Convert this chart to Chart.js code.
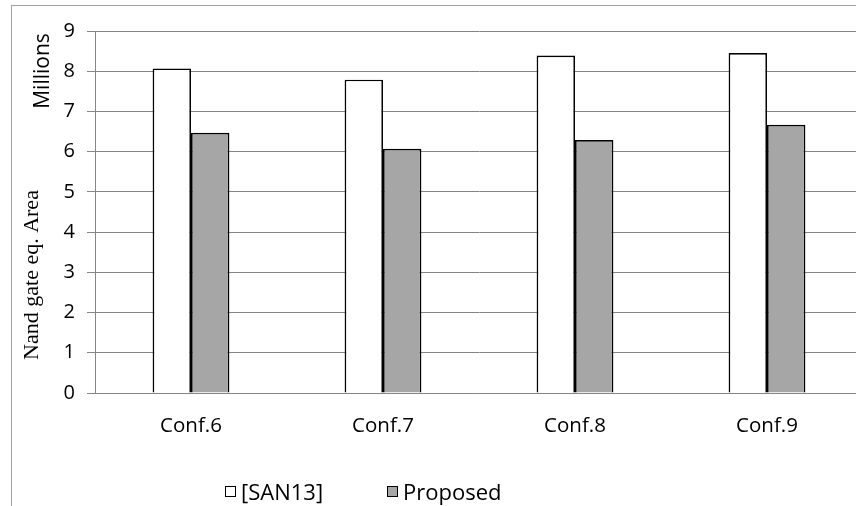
<!DOCTYPE html>
<html>
<head>
<meta charset="utf-8">
<script src="https://cdn.jsdelivr.net/npm/chart.js@4"></script>
<style>
body { margin: 0; background: #fff; overflow: hidden; }
.moldura { position: absolute; left: 11px; top: 5px; width: 880px; height: 520px; border-left: 1px solid #a0a0a0; border-top: 1px solid #a0a0a0; }
.moldura canvas { position: absolute; left: 0; top: 0; }
.legenda { position: absolute; left: 213px; top: 470px; display: flex; gap: 64px; font: 22px "Open Sans", sans-serif; line-height: 30px; color: #000; }
.legenda span { display: flex; align-items: center; }
.legenda i { display: inline-block; width: 9px; height: 9px; border: 1px solid #000; margin-right: 5px; }
</style>
</head>
<body>
<div class="moldura">
    <canvas class="grafico" width="860" height="500"></canvas>
    <div class="legenda"></div>
</div>
<script>
const categorias = ['Conf.6', 'Conf.7', 'Conf.8', 'Conf.9']
const nomesSeries = ['[SAN13]', 'Proposed']
const valoresSan13 = [8.07, 7.79, 8.39, 8.45]
const valoresProposto = [6.47, 6.07, 6.29, 6.67]
const coresSeries = ['#ffffff', '#a6a6a6']
const tituloY = 'Nand gate eq. Area'
const unidadeY = 'Millions'

const container = document.querySelector('.grafico')
const context = container.getContext('2d')

// titulos do eixo Y desenhados a mao (posicao igual ao Excel)
const titulosEixo = {
    id: 'titulosEixo',
    afterDraw(chart) {
        const ctx = chart.ctx
        ctx.save()
        ctx.fillStyle = '#000'
        ctx.textAlign = 'center'
        ctx.textBaseline = 'middle'
        ctx.translate(20, 269)
        ctx.rotate(-Math.PI / 2)
        ctx.font = '22px "Liberation Serif"'
        ctx.fillText(tituloY, 0, 0)
        ctx.restore()

        ctx.save()
        ctx.fillStyle = '#000'
        ctx.textAlign = 'center'
        ctx.textBaseline = 'middle'
        ctx.translate(31, 65)
        ctx.rotate(-Math.PI / 2)
        ctx.font = '21px "Open Sans"'
        ctx.fillText(unidadeY, 0, 0)
        ctx.restore()
    }
}

const grafico = new Chart(context, {
    type: 'bar',
    data: {
        labels: categorias,
        datasets: [
            {
                label: nomesSeries[0],
                data: valoresSan13,
                backgroundColor: coresSeries[0],
                borderColor: '#000',
                borderWidth: 1.7
            },
            {
                label: nomesSeries[1],
                data: valoresProposto,
                backgroundColor: coresSeries[1],
                borderColor: '#000',
                borderWidth: 1.7
            }
        ]
    },
    options: {
        responsive: false,
        animation: false,
        devicePixelRatio: 1,
        events: [],
        categoryPercentage: 0.4,
        barPercentage: 1,
        layout: { padding: { top: 25, right: 9, bottom: 0, left: 0 } },
        plugins: {
            legend: { display: false },
            tooltip: { enabled: false }
        },
        scales: {
            x: {
                grid: { display: false },
                border: { display: true, color: '#868686', width: 1 },
                ticks: { color: '#000', font: { family: 'Open Sans', size: 20.5 }, padding: 13 },
                afterFit: (scale) => { scale.height = 113 }
            },
            y: {
                min: 0,
                max: 9,
                ticks: { stepSize: 1, color: '#000', font: { family: 'Open Sans', size: 20 }, padding: 12 },
                grid: { color: '#868686', lineWidth: 1, tickLength: 8 },
                border: { display: true, color: '#868686', width: 1 },
                afterFit: (scale) => { scale.width = 83 }
            }
        }
    },
    plugins: [titulosEixo]
})

// legenda em HTML, montada a partir dos datasets
const legenda = document.querySelector('.legenda')
grafico.data.datasets.forEach((ds) => {
    const item = document.createElement('span')
    const caixa = document.createElement('i')
    caixa.style.background = ds.backgroundColor
    item.appendChild(caixa)
    item.appendChild(document.createTextNode(ds.label))
    legenda.appendChild(item)
})
</script>
</body>
</html>
